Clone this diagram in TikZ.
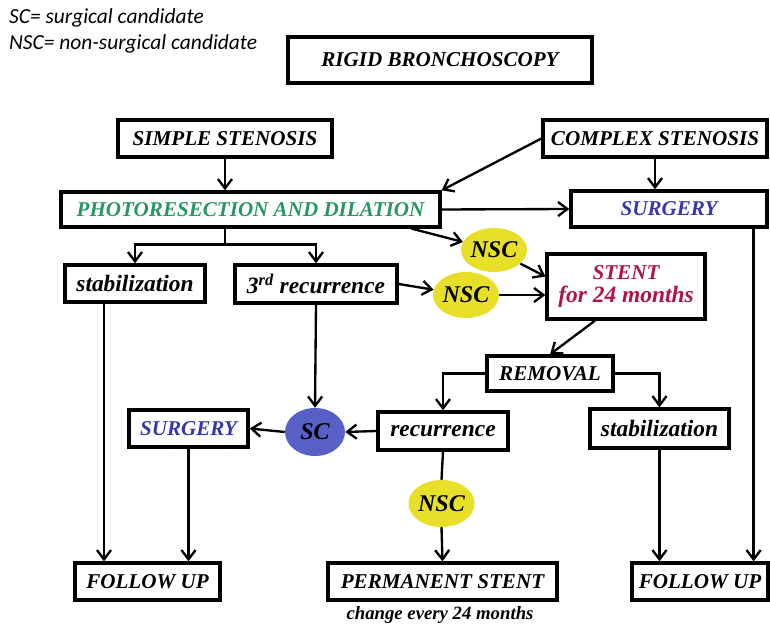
\documentclass[tikz,border=0pt]{standalone}
\usepackage{fontspec}
\setmainfont{Liberation Serif}
\newfontfamily\legendfont{Carlito}
\usetikzlibrary{shapes.geometric}
\usetikzlibrary{arrows.meta}
\usetikzlibrary{calc}
\definecolor{photogreen}{RGB}{40,150,100}
\definecolor{surgblue}{RGB}{55,55,170}
\definecolor{stentred}{RGB}{175,20,70}
\definecolor{nscyellow}{RGB}{232,224,40}
\definecolor{scblue}{RGB}{88,96,200}
\def\px{0.03cm}

\begin{document}
\begin{tikzpicture}[x=\px, y=-\px,
    box/.style={draw, line width=2.8pt, inner sep=0pt, align=center,
        font=\bfseries\itshape\fontsize{18}{21}\selectfont},
    small/.style={font=\bfseries\itshape\fontsize{20}{23}\selectfont},
    oval/.style={ellipse, inner sep=0pt, minimum width=62*\px, minimum height=46*\px,
        font=\bfseries\itshape\fontsize{20.5}{23}\selectfont},
    arr/.style={line width=2pt, -{Straight Barb[length=8pt,width=12pt,line width=2pt]}},
    lin/.style={line width=2pt}]
    \useasboundingbox (0,0) rectangle (770,625);

    % legend
    \node[anchor=west, font=\legendfont\itshape\fontsize{18.3}{21}\selectfont] (leg1) at (5,18) {SC= surgical candidate};
    \node[anchor=west, font=\legendfont\itshape\fontsize{18.3}{21}\selectfont] (leg2) at (5,44) {NSC= non-surgical candidate};

    % boxes
    \node[box, minimum width=304*\px, minimum height=46*\px] (rigid) at (440,60) {RIGID BRONCHOSCOPY};
    \node[box, minimum width=214*\px, minimum height=37*\px] (simple) at (225,138.5) {SIMPLE STENOSIS};
    \node[box, minimum width=224*\px, minimum height=37*\px] (complex) at (655,138.5) {COMPLEX STENOSIS};
    \node[box, text=photogreen, minimum width=379*\px, minimum height=35*\px] (photo) at (250.5,209.5) {PHOTORESECTION AND DILATION};
    \node[box, text=surgblue, minimum width=196*\px, minimum height=36*\px] (surgtop) at (669,209) {SURGERY};
    \node[box, small, minimum width=140*\px, minimum height=37*\px] (stabL) at (135,283.5) {stabilization};
    \node[box, small, minimum width=162*\px, minimum height=38*\px] (recur3) at (316,284) {3\textsuperscript{rd} recurrence};
    \node[box, text=stentred, minimum width=158*\px, minimum height=65*\px] (stent) at (626,286.5) {STENT\\[-1pt]{\fontsize{20}{23}\selectfont for 24 months}};
    \node[box, minimum width=126*\px, minimum height=35*\px] (removal) at (550,373.5) {REMOVAL};
    \node[box, small, minimum width=130*\px, minimum height=38*\px] (recur) at (443,431) {recurrence};
    \node[box, small, minimum width=139*\px, minimum height=39*\px] (stabR) at (659.5,428.5) {stabilization};
    \node[box, text=surgblue, minimum width=119*\px, minimum height=37*\px] (surgL) at (188.5,428.5) {SURGERY};
    \node[box, minimum width=145*\px, minimum height=37*\px] (followL) at (147.5,581.5) {FOLLOW UP};
    \node[box, minimum width=229*\px, minimum height=37*\px] (perm) at (442.5,581.5) {PERMANENT STENT};
    \node[box, minimum width=136*\px, minimum height=37*\px] (followR) at (700,581.5) {FOLLOW UP};
    \node[font=\bfseries\itshape\fontsize{16}{18}\selectfont] (note) at (440,615) {change every 24 months};

    % candidates
    \node[oval, fill=nscyellow, minimum height=44*\px] (nsc1) at (494,250) {NSC};
    \node[oval, fill=nscyellow] (nsc2) at (466,295) {NSC};
    \node[oval, fill=nscyellow, minimum width=63*\px, minimum height=47*\px] (nsc3) at (441.5,503.5) {NSC};
    \node[oval, fill=scblue, minimum width=60*\px, minimum height=48*\px] (sc) at (315,432) {SC};

    % connectors
    \coordinate (ph) at ($(photo.south east)+(-30,0)$);
    \coordinate (st) at ($(stent.south)+(-31,0)$);
    \coordinate (sl) at ($(stabL.south)+(-31,0)$);
    \coordinate (sr) at ($(surgtop.south east)+(-15,0)$);
    \draw[arr] (simple.south) -- (simple.south |- photo.north);
    \draw[arr] (complex.west) -- (photo.north east);
    \draw[arr] (complex.south) -- (complex.south |- surgtop.north);
    \draw[arr] (photo.east) -- (surgtop.west);
    \draw[arr] (ph) -- (nsc1);
    \draw[lin] (simple.south |- photo.south) -- ++(0,16) coordinate (br);
    \draw[arr] (br) -| (stabL.north);
    \draw[arr] (br) -| (recur3.north);
    \draw[arr] (nsc1) -- ($(stent.west)+(0,-10)$);
    \draw[arr] (recur3.east) -- (nsc2);
    \draw[arr] (nsc2.east) -- (stent.west |- nsc2.east);
    \draw[arr] (st) -- (removal.north);
    \draw[arr] (removal.west) -| (recur.north);
    \draw[arr] (removal.east) -| (stabR.north);
    \draw[arr] (recur3.south) -- (sc.north);
    \draw[arr] (recur.west) -- (sc.east);
    \draw[arr] (sc.west) -- (surgL.east);
    \draw[lin] (recur.south) -- (nsc3.north);
    \draw[arr] (nsc3.south) -- (perm.north);
    \draw[arr] (sl) -- (sl |- followL.north);
    \draw[arr] (surgL.south) -- (surgL.south |- followL.north);
    \draw[arr] (stabR.south) -- (stabR.south |- followR.north);
    \draw[arr] (sr) -- (sr |- followR.north);
\end{tikzpicture}
\end{document}
